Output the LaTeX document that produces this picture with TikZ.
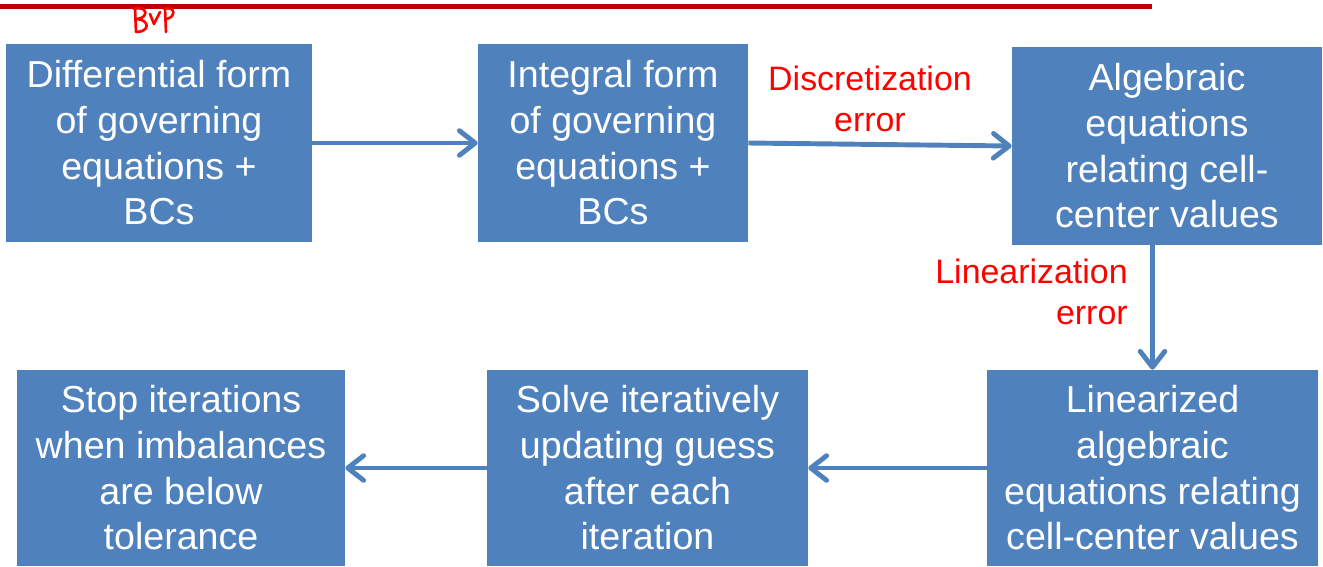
\documentclass[tikz,border=0pt]{standalone}
\usepackage{fontspec}
\setmainfont{Liberation Sans}
\usetikzlibrary{
  arrows.meta,
  positioning,
}
\definecolor{boxblue}{HTML}{4F81BD}
\definecolor{penred}{HTML}{C00000}
\tikzset{
  >={Straight Barb[length=9pt,width=14pt,round]},
}

\begin{document}
\begin{tikzpicture}[
      x=0.02cm, y=-0.02cm,
      block/.style={rectangle, fill=boxblue, text=white, align=center, inner sep=0pt,
                    font=\fontsize{21.4}{26}\selectfont},
      errlabel/.style={text=red, inner sep=0pt, font=\fontsize{19.3}{23.2}\selectfont},
      flow/.style={draw=boxblue, line width=2.8pt, ->},
    ]
      \useasboundingbox (0,0) rectangle (1323,566);
      % top rule and the pen note under it
      \draw [penred, line width=2.8pt] (0,6.5) -- (1152,6.5);
      \draw [red, line width=1.5pt, line cap=round, line join=round]
        (135,8) -- (136,32)
        (134,9) .. controls (148,5) and (149,18) .. (137,19)
                .. controls (150,20) and (150,32) .. (136,32)
        (150,14) -- (154,24) -- (160,12)
        (165,8) -- (166,32)
        (164,9) .. controls (176,5) and (176,18) .. (166,19);
      % upper row
      \node [block, minimum width=6.12cm, minimum height=3.96cm] (differential) at (159,143)
        {Differential form\\of governing\\equations +\\BCs};
      \node [block, minimum width=5.40cm, minimum height=3.96cm] (integral) at (613,143)
        {Integral form\\of governing\\equations +\\BCs};
      \node [block, minimum width=6.20cm, minimum height=3.96cm] (algebraic) at (1167,146)
        {Algebraic\\equations\\relating cell-\\center values};
      % lower row
      \node [block, minimum width=6.62cm, minimum height=3.92cm] (linearized) at (1152.5,468)
        {Linearized\\algebraic\\equations relating\\cell-center values};
      \node [block, minimum width=6.42cm, minimum height=3.92cm] (solve) at (647.5,468)
        {Solve iteratively\\updating guess\\after each\\iteration};
      \node [block, minimum width=6.56cm, minimum height=3.92cm] (stop) at (181,468)
        {Stop iterations\\when imbalances\\are below\\tolerance};
      % error sources
      \node [errlabel, align=center] (discretization) at (870,99) {Discretization\\error};
      \node [errlabel, align=right, anchor=east] (linearization) at (1128,292) {Linearization\\error};
      \draw [flow] (differential) -- (integral);
      \draw [flow] (integral.east) -- (algebraic.west);
      \draw [flow] (algebraic.south -| linearized.north) -- (linearized.north);
      \draw [flow] (linearized) -- (solve);
      \draw [flow] (solve) -- (stop);
    \end{tikzpicture}
\end{document}
